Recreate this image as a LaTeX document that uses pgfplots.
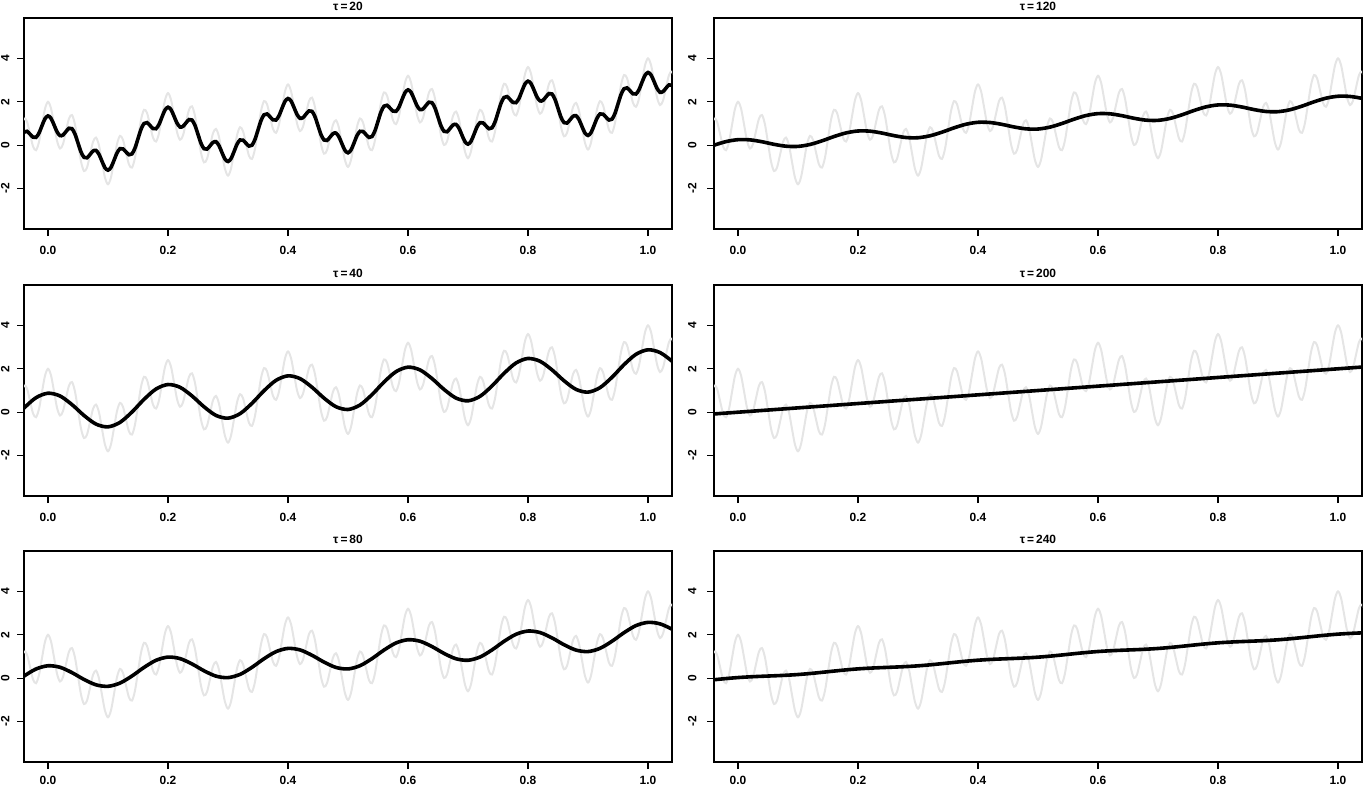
\documentclass[border=0pt]{standalone}
\usepackage{pgfplots}
\pgfplotsset{compat=1.18}
\usepackage{pgfplotstable}
\usepackage{fontspec}
\setmainfont{Liberation Sans}
\definecolor{sig}{RGB}{229,229,229}

% noisy signal y = trend + two cosines (values listed)
\pgfplotstableread[row sep=\\]{
x y\\
-0.045 0.77\\ -0.040 1.23\\ -0.035 1.09\\ -0.030 0.53\\ -0.025 -0.05\\ -0.020 -0.23\\ -0.015 0.15\\ -0.010 0.93\\ -0.005 1.68\\
0.000 2.00\\ 0.005 1.70\\ 0.010 0.97\\ 0.015 0.21\\ 0.020 -0.15\\ 0.025 0.05\\ 0.030 0.65\\ 0.035 1.23\\ 0.040 1.39\\ 0.045 0.95\\
0.050 0.10\\ 0.055 -0.75\\ 0.060 -1.19\\ 0.065 -1.03\\ 0.070 -0.45\\ 0.075 0.15\\ 0.080 0.35\\ 0.085 -0.01\\ 0.090 -0.77\\ 0.095 -1.50\\
0.100 -1.80\\ 0.105 -1.48\\ 0.110 -0.73\\ 0.115 0.05\\ 0.120 0.43\\ 0.125 0.25\\ 0.130 -0.33\\ 0.135 -0.89\\ 0.140 -1.03\\ 0.145 -0.57\\
0.150 0.30\\ 0.155 1.17\\ 0.160 1.63\\ 0.165 1.49\\ 0.170 0.93\\ 0.175 0.35\\ 0.180 0.17\\ 0.185 0.55\\ 0.190 1.33\\ 0.195 2.08\\
0.200 2.40\\ 0.205 2.10\\ 0.210 1.37\\ 0.215 0.61\\ 0.220 0.25\\ 0.225 0.45\\ 0.230 1.05\\ 0.235 1.63\\ 0.240 1.79\\ 0.245 1.35\\
0.250 0.50\\ 0.255 -0.35\\ 0.260 -0.79\\ 0.265 -0.63\\ 0.270 -0.05\\ 0.275 0.55\\ 0.280 0.75\\ 0.285 0.39\\ 0.290 -0.37\\ 0.295 -1.10\\
0.300 -1.40\\ 0.305 -1.08\\ 0.310 -0.33\\ 0.315 0.45\\ 0.320 0.83\\ 0.325 0.65\\ 0.330 0.07\\ 0.335 -0.49\\ 0.340 -0.63\\ 0.345 -0.17\\
0.350 0.70\\ 0.355 1.57\\ 0.360 2.03\\ 0.365 1.89\\ 0.370 1.33\\ 0.375 0.75\\ 0.380 0.57\\ 0.385 0.95\\ 0.390 1.73\\ 0.395 2.48\\
0.400 2.80\\ 0.405 2.50\\ 0.410 1.77\\ 0.415 1.01\\ 0.420 0.65\\ 0.425 0.85\\ 0.430 1.45\\ 0.435 2.03\\ 0.440 2.19\\ 0.445 1.75\\
0.450 0.90\\ 0.455 0.05\\ 0.460 -0.39\\ 0.465 -0.23\\ 0.470 0.35\\ 0.475 0.95\\ 0.480 1.15\\ 0.485 0.79\\ 0.490 0.03\\ 0.495 -0.70\\
0.500 -1.00\\ 0.505 -0.68\\ 0.510 0.07\\ 0.515 0.85\\ 0.520 1.23\\ 0.525 1.05\\ 0.530 0.47\\ 0.535 -0.09\\ 0.540 -0.23\\ 0.545 0.23\\
0.550 1.10\\ 0.555 1.97\\ 0.560 2.43\\ 0.565 2.29\\ 0.570 1.73\\ 0.575 1.15\\ 0.580 0.97\\ 0.585 1.35\\ 0.590 2.13\\ 0.595 2.88\\
0.600 3.20\\ 0.605 2.90\\ 0.610 2.17\\ 0.615 1.41\\ 0.620 1.05\\ 0.625 1.25\\ 0.630 1.85\\ 0.635 2.43\\ 0.640 2.59\\ 0.645 2.15\\
0.650 1.30\\ 0.655 0.45\\ 0.660 0.01\\ 0.665 0.17\\ 0.670 0.75\\ 0.675 1.35\\ 0.680 1.55\\ 0.685 1.19\\ 0.690 0.43\\ 0.695 -0.30\\
0.700 -0.60\\ 0.705 -0.28\\ 0.710 0.47\\ 0.715 1.25\\ 0.720 1.63\\ 0.725 1.45\\ 0.730 0.87\\ 0.735 0.31\\ 0.740 0.17\\ 0.745 0.63\\
0.750 1.50\\ 0.755 2.37\\ 0.760 2.83\\ 0.765 2.69\\ 0.770 2.13\\ 0.775 1.55\\ 0.780 1.37\\ 0.785 1.75\\ 0.790 2.53\\ 0.795 3.28\\
0.800 3.60\\ 0.805 3.30\\ 0.810 2.57\\ 0.815 1.81\\ 0.820 1.45\\ 0.825 1.65\\ 0.830 2.25\\ 0.835 2.83\\ 0.840 2.99\\ 0.845 2.55\\
0.850 1.70\\ 0.855 0.85\\ 0.860 0.41\\ 0.865 0.57\\ 0.870 1.15\\ 0.875 1.75\\ 0.880 1.95\\ 0.885 1.59\\ 0.890 0.83\\ 0.895 0.10\\
0.900 -0.20\\ 0.905 0.12\\ 0.910 0.87\\ 0.915 1.65\\ 0.920 2.03\\ 0.925 1.85\\ 0.930 1.27\\ 0.935 0.71\\ 0.940 0.57\\ 0.945 1.03\\
0.950 1.90\\ 0.955 2.77\\ 0.960 3.23\\ 0.965 3.09\\ 0.970 2.53\\ 0.975 1.95\\ 0.980 1.77\\ 0.985 2.15\\ 0.990 2.93\\ 0.995 3.68\\
1.000 4.00\\ 1.005 3.70\\ 1.010 2.97\\ 1.015 2.21\\ 1.020 1.85\\ 1.025 2.05\\ 1.030 2.65\\ 1.035 3.23\\ 1.040 3.39\\ 1.045 2.95\\
}\graydata

\pgfplotstableread[row sep=\\]{
x y\\
-0.045 0.33\\ -0.040 0.60\\ -0.035 0.64\\ -0.030 0.51\\ -0.025 0.37\\ -0.020 0.36\\ -0.015 0.56\\ -0.010 0.90\\ -0.005 1.22\\
0.000 1.35\\ 0.005 1.24\\ 0.010 0.94\\ 0.015 0.62\\ 0.020 0.44\\ 0.025 0.47\\ 0.030 0.63\\ 0.035 0.78\\ 0.040 0.76\\ 0.045 0.51\\
0.050 0.10\\ 0.055 -0.31\\ 0.060 -0.56\\ 0.065 -0.58\\ 0.070 -0.43\\ 0.075 -0.27\\ 0.080 -0.24\\ 0.085 -0.42\\ 0.090 -0.74\\ 0.095 -1.04\\
0.100 -1.15\\ 0.105 -1.02\\ 0.110 -0.70\\ 0.115 -0.36\\ 0.120 -0.16\\ 0.125 -0.17\\ 0.130 -0.31\\ 0.135 -0.44\\ 0.140 -0.40\\ 0.145 -0.13\\
0.150 0.30\\ 0.155 0.73\\ 0.160 1.00\\ 0.165 1.04\\ 0.170 0.91\\ 0.175 0.77\\ 0.180 0.76\\ 0.185 0.96\\ 0.190 1.30\\ 0.195 1.62\\
0.200 1.75\\ 0.205 1.64\\ 0.210 1.34\\ 0.215 1.02\\ 0.220 0.84\\ 0.225 0.87\\ 0.230 1.03\\ 0.235 1.18\\ 0.240 1.16\\ 0.245 0.91\\
0.250 0.50\\ 0.255 0.09\\ 0.260 -0.16\\ 0.265 -0.18\\ 0.270 -0.03\\ 0.275 0.13\\ 0.280 0.16\\ 0.285 -0.02\\ 0.290 -0.34\\ 0.295 -0.64\\
0.300 -0.75\\ 0.305 -0.62\\ 0.310 -0.30\\ 0.315 0.04\\ 0.320 0.24\\ 0.325 0.23\\ 0.330 0.09\\ 0.335 -0.04\\ 0.340 0.00\\ 0.345 0.27\\
0.350 0.70\\ 0.355 1.13\\ 0.360 1.40\\ 0.365 1.44\\ 0.370 1.31\\ 0.375 1.17\\ 0.380 1.16\\ 0.385 1.36\\ 0.390 1.70\\ 0.395 2.02\\
0.400 2.15\\ 0.405 2.04\\ 0.410 1.74\\ 0.415 1.42\\ 0.420 1.24\\ 0.425 1.27\\ 0.430 1.43\\ 0.435 1.58\\ 0.440 1.56\\ 0.445 1.31\\
0.450 0.90\\ 0.455 0.49\\ 0.460 0.24\\ 0.465 0.22\\ 0.470 0.37\\ 0.475 0.53\\ 0.480 0.56\\ 0.485 0.38\\ 0.490 0.06\\ 0.495 -0.24\\
0.500 -0.35\\ 0.505 -0.22\\ 0.510 0.10\\ 0.515 0.44\\ 0.520 0.64\\ 0.525 0.63\\ 0.530 0.49\\ 0.535 0.36\\ 0.540 0.40\\ 0.545 0.67\\
0.550 1.10\\ 0.555 1.53\\ 0.560 1.80\\ 0.565 1.84\\ 0.570 1.71\\ 0.575 1.57\\ 0.580 1.56\\ 0.585 1.76\\ 0.590 2.10\\ 0.595 2.42\\
0.600 2.55\\ 0.605 2.44\\ 0.610 2.14\\ 0.615 1.82\\ 0.620 1.64\\ 0.625 1.67\\ 0.630 1.83\\ 0.635 1.98\\ 0.640 1.96\\ 0.645 1.71\\
0.650 1.30\\ 0.655 0.89\\ 0.660 0.64\\ 0.665 0.62\\ 0.670 0.77\\ 0.675 0.93\\ 0.680 0.96\\ 0.685 0.78\\ 0.690 0.46\\ 0.695 0.16\\
0.700 0.05\\ 0.705 0.18\\ 0.710 0.50\\ 0.715 0.84\\ 0.720 1.04\\ 0.725 1.03\\ 0.730 0.89\\ 0.735 0.76\\ 0.740 0.80\\ 0.745 1.07\\
0.750 1.50\\ 0.755 1.93\\ 0.760 2.20\\ 0.765 2.24\\ 0.770 2.11\\ 0.775 1.97\\ 0.780 1.96\\ 0.785 2.16\\ 0.790 2.50\\ 0.795 2.82\\
0.800 2.95\\ 0.805 2.84\\ 0.810 2.54\\ 0.815 2.22\\ 0.820 2.04\\ 0.825 2.07\\ 0.830 2.23\\ 0.835 2.38\\ 0.840 2.36\\ 0.845 2.11\\
0.850 1.70\\ 0.855 1.29\\ 0.860 1.04\\ 0.865 1.02\\ 0.870 1.17\\ 0.875 1.33\\ 0.880 1.36\\ 0.885 1.18\\ 0.890 0.86\\ 0.895 0.56\\
0.900 0.45\\ 0.905 0.58\\ 0.910 0.90\\ 0.915 1.24\\ 0.920 1.44\\ 0.925 1.43\\ 0.930 1.29\\ 0.935 1.16\\ 0.940 1.20\\ 0.945 1.47\\
0.950 1.90\\ 0.955 2.33\\ 0.960 2.60\\ 0.965 2.64\\ 0.970 2.51\\ 0.975 2.37\\ 0.980 2.36\\ 0.985 2.56\\ 0.990 2.90\\ 0.995 3.22\\
1.000 3.35\\ 1.005 3.24\\ 1.010 2.94\\ 1.015 2.62\\ 1.020 2.44\\ 1.025 2.47\\ 1.030 2.63\\ 1.035 2.78\\ 1.040 2.76\\ 1.045 2.51\\
}\tauA

\pgfplotstableread[row sep=\\]{
x y\\
-0.06 -0.390\\ -0.04 0.190\\ -0.02 0.668\\
0.00 0.875\\ 0.02 0.748\\ 0.04 0.350\\ 0.06 -0.150\\ 0.08 -0.548\\ 0.10 -0.675\\ 0.12 -0.468\\ 0.14 0.010\\ 0.16 0.590\\ 0.18 1.068\\
0.20 1.275\\ 0.22 1.148\\ 0.24 0.750\\ 0.26 0.250\\ 0.28 -0.148\\ 0.30 -0.275\\ 0.32 -0.068\\ 0.34 0.410\\ 0.36 0.990\\ 0.38 1.468\\
0.40 1.675\\ 0.42 1.548\\ 0.44 1.150\\ 0.46 0.650\\ 0.48 0.252\\ 0.50 0.125\\ 0.52 0.332\\ 0.54 0.810\\ 0.56 1.390\\ 0.58 1.868\\
0.60 2.075\\ 0.62 1.948\\ 0.64 1.550\\ 0.66 1.050\\ 0.68 0.652\\ 0.70 0.525\\ 0.72 0.732\\ 0.74 1.210\\ 0.76 1.790\\ 0.78 2.268\\
0.80 2.475\\ 0.82 2.348\\ 0.84 1.950\\ 0.86 1.450\\ 0.88 1.052\\ 0.90 0.925\\ 0.92 1.132\\ 0.94 1.610\\ 0.96 2.190\\ 0.98 2.668\\
1.00 2.875\\ 1.02 2.748\\ 1.04 2.350\\ 1.06 1.850\\
}\tauB

\pgfplotstableread[row sep=\\]{
x y\\
-0.06 -0.297\\ -0.04 0.097\\ -0.02 0.424\\
0.00 0.573\\ 0.02 0.504\\ 0.04 0.257\\ 0.06 -0.057\\ 0.08 -0.304\\ 0.10 -0.373\\ 0.12 -0.224\\ 0.14 0.103\\ 0.16 0.497\\ 0.18 0.824\\
0.20 0.973\\ 0.22 0.904\\ 0.24 0.657\\ 0.26 0.343\\ 0.28 0.096\\ 0.30 0.027\\ 0.32 0.176\\ 0.34 0.503\\ 0.36 0.897\\ 0.38 1.224\\
0.40 1.373\\ 0.42 1.304\\ 0.44 1.057\\ 0.46 0.743\\ 0.48 0.496\\ 0.50 0.427\\ 0.52 0.576\\ 0.54 0.903\\ 0.56 1.297\\ 0.58 1.624\\
0.60 1.773\\ 0.62 1.704\\ 0.64 1.457\\ 0.66 1.143\\ 0.68 0.896\\ 0.70 0.827\\ 0.72 0.976\\ 0.74 1.303\\ 0.76 1.697\\ 0.78 2.024\\
0.80 2.173\\ 0.82 2.104\\ 0.84 1.857\\ 0.86 1.543\\ 0.88 1.296\\ 0.90 1.227\\ 0.92 1.376\\ 0.94 1.703\\ 0.96 2.097\\ 0.98 2.424\\
1.00 2.573\\ 1.02 2.504\\ 1.04 2.257\\ 1.06 1.943\\
}\tauC

\pgfplotstableread[row sep=\\]{
x y\\
-0.06 -0.199\\ -0.04 -0.001\\ -0.02 0.166\\
0.00 0.255\\ 0.02 0.246\\ 0.04 0.159\\ 0.06 0.041\\ 0.08 -0.046\\ 0.10 -0.055\\ 0.12 0.034\\ 0.14 0.201\\ 0.16 0.399\\ 0.18 0.566\\
0.20 0.655\\ 0.22 0.646\\ 0.24 0.559\\ 0.26 0.441\\ 0.28 0.354\\ 0.30 0.345\\ 0.32 0.434\\ 0.34 0.601\\ 0.36 0.799\\ 0.38 0.966\\
0.40 1.055\\ 0.42 1.046\\ 0.44 0.959\\ 0.46 0.841\\ 0.48 0.754\\ 0.50 0.745\\ 0.52 0.834\\ 0.54 1.001\\ 0.56 1.199\\ 0.58 1.366\\
0.60 1.455\\ 0.62 1.446\\ 0.64 1.359\\ 0.66 1.241\\ 0.68 1.154\\ 0.70 1.145\\ 0.72 1.234\\ 0.74 1.401\\ 0.76 1.599\\ 0.78 1.766\\
0.80 1.855\\ 0.82 1.846\\ 0.84 1.759\\ 0.86 1.641\\ 0.88 1.554\\ 0.90 1.545\\ 0.92 1.634\\ 0.94 1.801\\ 0.96 1.999\\ 0.98 2.166\\
1.00 2.255\\ 1.02 2.246\\ 1.04 2.159\\ 1.06 2.041\\
}\tauD

\pgfplotstableread[row sep=\\]{
x y\\
-0.06 -0.12\\ 0.50 1.00\\ 1.06 2.12\\
}\tauE

\pgfplotstableread[row sep=\\]{
x y\\
-0.06 -0.129\\ -0.04 -0.071\\ -0.02 -0.016\\
0.00 0.030\\ 0.02 0.064\\ 0.04 0.089\\ 0.06 0.111\\ 0.08 0.136\\ 0.10 0.170\\ 0.12 0.216\\ 0.14 0.271\\ 0.16 0.329\\ 0.18 0.384\\
0.20 0.430\\ 0.22 0.464\\ 0.24 0.489\\ 0.26 0.511\\ 0.28 0.536\\ 0.30 0.570\\ 0.32 0.616\\ 0.34 0.671\\ 0.36 0.729\\ 0.38 0.784\\
0.40 0.830\\ 0.42 0.864\\ 0.44 0.889\\ 0.46 0.911\\ 0.48 0.936\\ 0.50 0.970\\ 0.52 1.016\\ 0.54 1.071\\ 0.56 1.129\\ 0.58 1.184\\
0.60 1.230\\ 0.62 1.264\\ 0.64 1.289\\ 0.66 1.311\\ 0.68 1.336\\ 0.70 1.370\\ 0.72 1.416\\ 0.74 1.471\\ 0.76 1.529\\ 0.78 1.584\\
0.80 1.630\\ 0.82 1.664\\ 0.84 1.689\\ 0.86 1.711\\ 0.88 1.736\\ 0.90 1.770\\ 0.92 1.816\\ 0.94 1.871\\ 0.96 1.929\\ 0.98 1.984\\
1.00 2.030\\ 1.02 2.064\\ 1.04 2.089\\ 1.06 2.111\\
}\tauF

\pgfplotsset{
  panel/.style={
    scale only axis, width=648bp, height=211bp,
    anchor=south west,
    xmin=-0.04, xmax=1.04, ymin=-3.86, ymax=5.86,
    xtick={0,0.2,0.4,0.6,0.8,1}, xticklabels={0.0,0.2,0.4,0.6,0.8,1.0},
    ytick={-2,0,2,4}, yticklabels={-2,0,2,4},
    xtick pos=left, ytick pos=left,
    tick align=outside,
    major tick length=7bp,
    every tick/.style={black, line width=1.4bp},
    axis line style={line width=1.8bp},
    tick label style={font=\fontsize{12}{14}\bfseries\selectfont},
    xticklabel style={yshift=-7bp},
    yticklabel style={rotate=90, anchor=south, yshift=7bp},
    title style={font=\fontsize{12}{14}\bfseries\selectfont, at={(0.5,1)}, anchor=base, yshift=2bp},
  },
  leftcol/.style={yticklabel style={yshift=-3bp}},
  bottomrow/.style={xticklabel style={yshift=3bp}},
  sigline/.style={sig, line width=2bp, smooth},
  fitline/.style={black, line width=3.6bp, smooth},
}

\begin{document}
\begin{tikzpicture}
\useasboundingbox (0,0) rectangle (1363bp,-787bp);

\begin{axis}[panel, leftcol, at={(24bp,-229bp)}, title={τ\,=\,20}]
\addplot[sigline] table {\graydata};
\addplot[fitline] table {\tauA};
\end{axis}

\begin{axis}[panel, at={(714bp,-229bp)}, title={τ\,=\,120}]
\addplot[sigline] table {\graydata};
\addplot[fitline] table {\tauD};
\end{axis}

\begin{axis}[panel, leftcol, at={(24bp,-496bp)}, title={τ\,=\,40}]
\addplot[sigline] table {\graydata};
\addplot[fitline] table {\tauB};
\end{axis}

\begin{axis}[panel, at={(714bp,-496bp)}, title={τ\,=\,200}]
\addplot[sigline] table {\graydata};
\addplot[fitline] table {\tauE};
\end{axis}

\begin{axis}[panel, leftcol, bottomrow, at={(24bp,-762bp)}, title={τ\,=\,80}]
\addplot[sigline] table {\graydata};
\addplot[fitline] table {\tauC};
\end{axis}

\begin{axis}[panel, bottomrow, at={(714bp,-762bp)}, title={τ\,=\,240}]
\addplot[sigline] table {\graydata};
\addplot[fitline] table {\tauF};
\end{axis}
\end{tikzpicture}
\end{document}
